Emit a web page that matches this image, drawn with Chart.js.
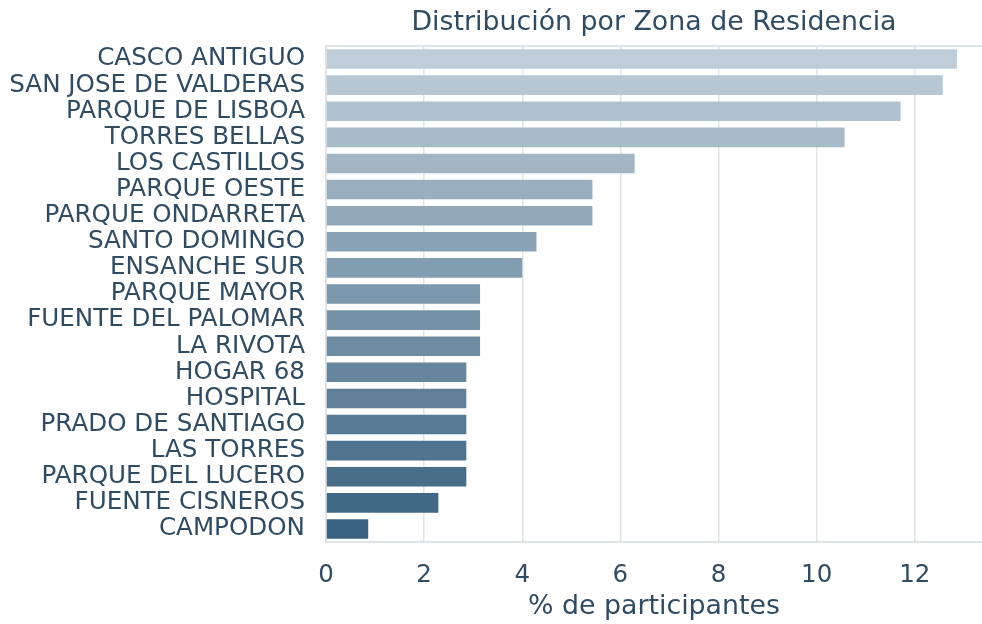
<!DOCTYPE html>
<html>
<head>
<meta charset="utf-8">
<script src="https://cdn.jsdelivr.net/npm/chart.js@4/dist/chart.umd.min.js"></script>
<style>
  html, body { margin: 0; padding: 0; background: #ffffff; }
  #wrap { width: 982px; height: 624px; }
</style>
</head>
<body>
<div id="wrap"><canvas id="c" width="982" height="624"></canvas></div>
<script>
const categories = [
  "CASCO ANTIGUO", "SAN JOSE DE VALDERAS", "PARQUE DE LISBOA", "TORRES BELLAS",
  "LOS CASTILLOS", "PARQUE OESTE", "PARQUE ONDARRETA", "SANTO DOMINGO",
  "ENSANCHE SUR", "PARQUE MAYOR", "FUENTE DEL PALOMAR", "LA RIVOTA",
  "HOGAR 68", "HOSPITAL", "PRADO DE SANTIAGO", "LAS TORRES",
  "PARQUE DEL LUCERO", "FUENTE CISNEROS", "CAMPODON"
];
const percentages = [
  12.86, 12.57, 11.71, 10.57,
  6.29, 5.43, 5.43, 4.29,
  4.00, 3.14, 3.14, 3.14,
  2.86, 2.86, 2.86, 2.86,
  2.86, 2.29, 0.86
];
const xTicks = [0, 2, 4, 6, 8, 10, 12];
const titleText = "Distribución por Zona de Residencia";
const xTitle = "% de participantes";

const lightColor = [190, 205, 216];
const darkColor = [58, 98, 128];
const barColors = categories.map((_, i) => {
  const t = i / (categories.length - 1);
  const c = lightColor.map((v, k) => Math.round(v + (darkColor[k] - v) * t));
  return `rgb(${c[0]},${c[1]},${c[2]})`;
});

const textColor = "#314b63";
const gridColor = "#dfe4e8";

new Chart(document.getElementById("c"), {
  type: "bar",
  data: {
    labels: categories,
    datasets: [{
      data: percentages,
      backgroundColor: barColors,
      borderWidth: 0,
      barPercentage: 0.75,
      categoryPercentage: 1.0
    }]
  },
  options: {
    indexAxis: "y",
    responsive: false,
    animation: false,
    layout: { padding: { top: 46, right: 0, left: 0, bottom: 0 } },
    plugins: {
      legend: { display: false },
      tooltip: { enabled: false },
      title: { display: false }
    },
    scales: {
      x: {
        type: "linear",
        min: 0,
        max: 13.37,
        afterBuildTicks: (scale) => {
          scale.ticks = xTicks.map(v => ({ value: v }));
        },
        afterFit: (scale) => { scale.height = 82; },
        ticks: {
          color: textColor,
          font: { family: "DejaVu Sans", size: 24.5 },
          padding: 19
        },
        grid: { color: gridColor, lineWidth: 1.5, drawTicks: false },
        border: { color: gridColor, width: 2 },
        title: {
          display: true,
          text: xTitle,
          color: textColor,
          font: { family: "DejaVu Sans", size: 26.8 },
          padding: { top: 0, bottom: 1 }
        }
      },
      y: {
        afterFit: (scale) => { scale.width = 326; },
        ticks: {
          color: textColor,
          font: { family: "DejaVu Sans", size: 24.6 },
          padding: 21,
          autoSkip: false
        },
        grid: { display: false, drawTicks: false },
        border: { color: gridColor, width: 2 }
      }
    }
  },
  plugins: [{
    id: "topSpineAndTitle",
    afterDatasetsDraw(chart) {
      const { ctx, chartArea } = chart;
      ctx.save();
      ctx.strokeStyle = gridColor;
      ctx.lineWidth = 2;
      ctx.beginPath();
      ctx.moveTo(chartArea.left, chartArea.top);
      ctx.lineTo(chartArea.right, chartArea.top);
      ctx.stroke();
      ctx.restore();
    },
    afterDraw(chart) {
      const { ctx, chartArea } = chart;
      ctx.save();
      ctx.fillStyle = textColor;
      ctx.font = "26.8px 'DejaVu Sans'";
      ctx.textAlign = "center";
      ctx.textBaseline = "middle";
      ctx.fillText(titleText, (chartArea.left + chartArea.right) / 2, 23);
      ctx.restore();
    }
  }]
});
</script>
</body>
</html>
